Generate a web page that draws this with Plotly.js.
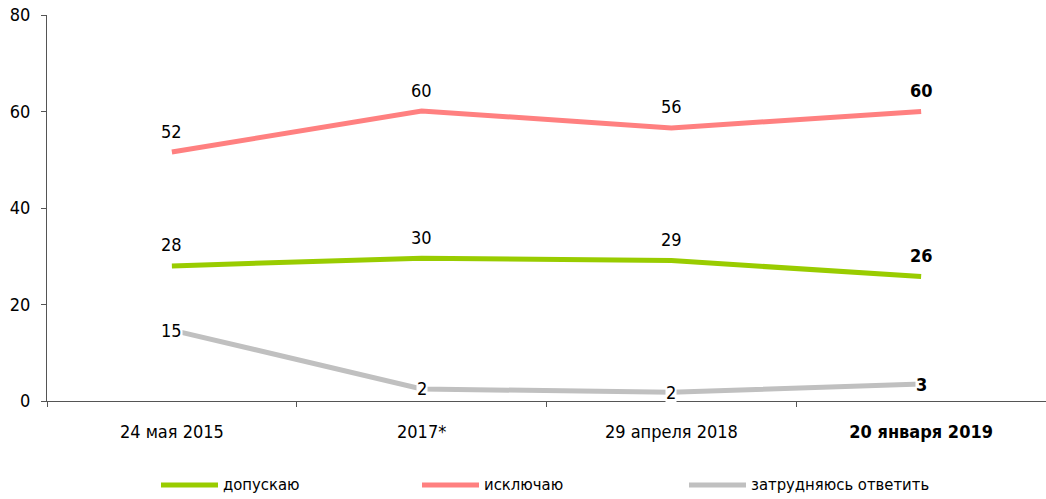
<!DOCTYPE html>
<html><head><meta charset="utf-8">
<script src="https://cdn.plot.ly/plotly-3.0.1.min.js"></script>
<style>body{margin:0;background:#fff}#c{width:1046px;height:499px}</style>
</head><body><div id="c"></div>
<script>
const categories = ['24 мая 2015', '2017*', '29 апреля 2018', '20 января 2019'];
const tickLabels = ['24 мая 2015', '2017*', '29 апреля 2018', '<b>20 января 2019</b>'];
const allowVals = [28.0, 29.6, 29.1, 25.8];
const excludeVals = [51.6, 60.1, 56.6, 60.0];
const unsureVals = [14.7, 2.5, 1.8, 3.5];
const allowLabels = ['28', '30', '29', '26'];
const excludeLabels = ['52', '60', '56', '60'];
const unsureLabels = ['15', '2', '2', '3'];
const seriesNames = ['допускаю', 'исключаю', 'затрудняюсь ответить'];
const colors = ['#99CC00', '#FF8080', '#C0C0C0'];

const FONT = '"Liberation Sans Narrow", "DejaVu Sans Condensed", sans-serif';

const L = 47, R = 0, T = 15, B = 98, W = 1046, H = 499;
const pw = W - L - R, ph = H - T - B;
const px2x = p => (p - L) / pw;
const py2y = p => (H - B - p) / ph;

const series = [allowVals, excludeVals, unsureVals];
const labels = [allowLabels, excludeLabels, unsureLabels];
const traces = series.map((v, i) => ({
  type: 'scatter', mode: 'lines', x: categories, y: v, name: seriesNames[i],
  line: {color: colors[i], width: 5}, hoverinfo: 'skip', showlegend: false
}));

const annotations = [];
labels.forEach((labs, i) => {
  labs.forEach((t, j) => {
    const last = j === labs.length - 1;
    annotations.push({
      x: categories[j], y: series[i][j], xref: 'x', yref: 'y',
      text: last ? '<b>' + t + '</b>' : t, showarrow: false,
      yshift: i === 2 ? 0 : 21,
      bgcolor: i === 2 ? '#ffffff' : 'rgba(0,0,0,0)',
      borderpad: 0,
      font: {family: FONT, size: 18, color: '#000'}
    });
  });
});

// manual legend (layout only)
const legendStarts = [161, 422, 689];
const legendY = 485;
const shapes = [];
seriesNames.forEach((n, i) => {
  const x0 = legendStarts[i];
  shapes.push({
    type: 'line', xref: 'paper', yref: 'paper',
    x0: px2x(x0), x1: px2x(x0 + 57), y0: py2y(legendY), y1: py2y(legendY),
    line: {color: colors[i], width: 5}
  });
  annotations.push({
    xref: 'paper', yref: 'paper', x: px2x(x0 + 60), y: py2y(legendY),
    xanchor: 'left', yanchor: 'middle', text: n, showarrow: false,
    font: {family: FONT, size: 16.5, color: '#000'}
  });
});

const layout = {
  width: W, height: H,
  margin: {l: L, r: R, t: T, b: B},
  paper_bgcolor: '#fff', plot_bgcolor: '#fff',
  font: {family: FONT, size: 18, color: '#000'},
  xaxis: {
    type: 'category', tickvals: categories, ticktext: tickLabels,
    tickson: 'boundaries', ticks: 'outside', ticklen: 5, tickcolor: '#555',
    showline: true, linecolor: '#555', linewidth: 1, showgrid: false, zeroline: false,
    ticklabelstandoff: 14, range: [-0.5, 3.5], automargin: false
  },
  yaxis: {
    range: [0, 80], tickvals: [0, 20, 40, 60, 80], ticks: 'outside', ticklen: 5,
    tickcolor: '#555', showline: true, linecolor: '#555', linewidth: 1,
    showgrid: false, zeroline: false, ticklabelstandoff: 7, automargin: false
  },
  showlegend: false,
  shapes: shapes,
  annotations: annotations
};

Plotly.newPlot('c', traces, layout, {displayModeBar: false, staticPlot: true});
</script></body></html>
